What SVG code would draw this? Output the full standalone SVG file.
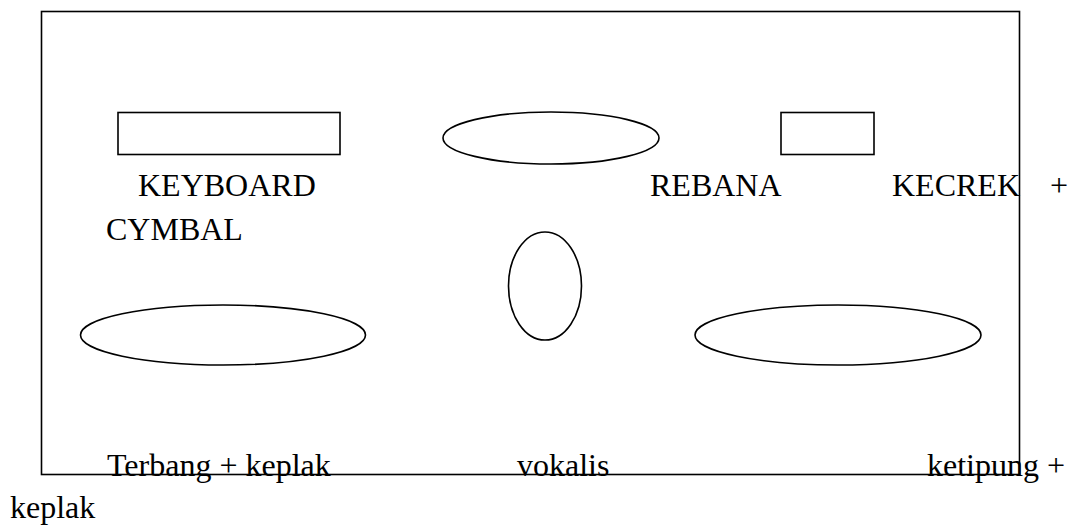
<svg xmlns="http://www.w3.org/2000/svg" width="1073" height="526" viewBox="0 0 1073 526">
<style>
.s{fill:none;stroke:#000;stroke-width:1.6}
.t{font-family:"Liberation Serif","Times New Roman",serif;font-size:32px;fill:#000}
</style>
<rect width="1073" height="526" fill="#fff"/>
<g id="keyboard"><rect class="s" x="118" y="112.5" width="222" height="42"/><text class="t" x="138" y="196">KEYBOARD</text></g>
<g id="rebana"><ellipse class="s" cx="551" cy="138" rx="108" ry="26"/><text class="t" x="650" y="196">REBANA</text></g>
<g id="kecrek"><rect class="s" x="781" y="112.5" width="93" height="42"/><text class="t" x="892" y="196">KECREK</text><text class="t" x="1050" y="196">+</text><text class="t" x="106" y="240">CYMBAL</text></g>
<g id="vokalis"><ellipse class="s" cx="545" cy="286" rx="36.5" ry="54"/><text class="t" x="517" y="476">vokalis</text></g>
<g id="terbang"><ellipse class="s" cx="223" cy="335" rx="142.5" ry="30"/><text class="t" x="107" y="476">Terbang + keplak</text></g>
<g id="ketipung"><ellipse class="s" cx="838" cy="335" rx="143" ry="30"/><text class="t" x="927" y="476">ketipung +</text><text class="t" x="10" y="518">keplak</text></g>
<g id="frame"><rect class="s" x="41.5" y="11.5" width="978" height="463" stroke-width="2"/></g>
<g id="connectors"></g>
</svg>
